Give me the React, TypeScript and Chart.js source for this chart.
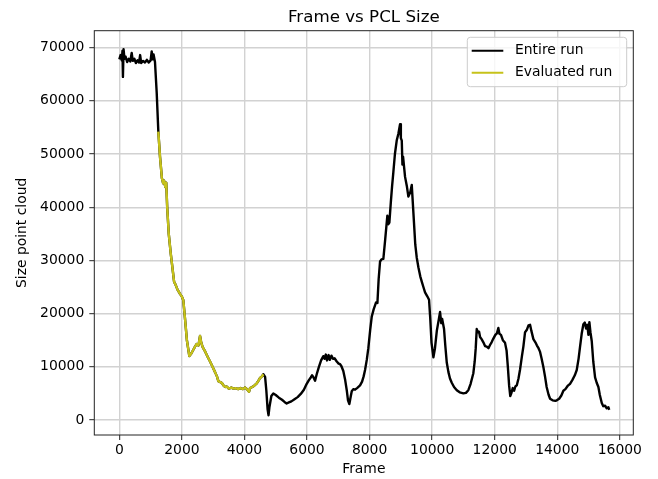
import React, { useEffect, useRef } from "react";
import { Chart, registerables } from "chart.js";

Chart.register(...registerables);

const titleText = "Frame vs PCL Size";
const xAxisLabel = "Frame";
const yAxisLabel = "Size point cloud";
const seriesLabels = ["Entire run", "Evaluated run"];

const frames = [
  0, 40, 80, 100, 115, 135, 165, 200, 250, 300, 350, 395, 430, 480, 530, 580, 630, 665, 700, 760,
  820, 880, 940, 1000, 1035, 1065, 1095, 1140, 1195, 1247,
  1300, 1360, 1400, 1430, 1470, 1500, 1530, 1580, 1643, 1700, 1750, 1800, 1860, 1940, 2000, 2046,
  2100, 2160, 2238, 2300, 2366, 2420, 2474, 2530, 2580, 2620, 2665, 2750, 2830, 2900, 2980, 3060,
  3120, 3166, 3230, 3273, 3340, 3400, 3433, 3500, 3580, 3650, 3720, 3800, 3870, 3950, 4020, 4080,
  4147, 4179, 4250, 4320, 4393, 4450, 4500, 4560, 4604,
  4660, 4700, 4740, 4770, 4800, 4860, 4923, 5000, 5100, 5200, 5280, 5350, 5420, 5500, 5600, 5700,
  5800, 5900, 5990, 6060, 6120, 6160, 6200, 6257, 6310, 6380, 6450, 6522, 6560, 6600, 6640, 6690,
  6730, 6780, 6830, 6880, 6950, 7010, 7056, 7100, 7160, 7220, 7270, 7310, 7353, 7400, 7430, 7480,
  7535, 7600, 7695, 7760, 7810, 7855, 7910, 7960, 8020, 8068, 8130, 8207, 8250, 8290, 8335, 8380,
  8440, 8500, 8568, 8600, 8632, 8680, 8720, 8760, 8810, 8869, 8920, 8974, 9000, 9029, 9050, 9070,
  9134, 9190, 9240, 9300, 9348, 9380, 9420, 9460, 9508, 9560, 9620, 9668, 9720, 9773, 9840, 9901,
  9940, 9980, 10040, 10090, 10150, 10200, 10253, 10290, 10320, 10380, 10420, 10467, 10520, 10570,
  10627, 10700, 10787, 10880, 10998, 11080, 11157, 11230, 11317, 11360, 11393, 11425, 11460, 11500,
  11531, 11580, 11637, 11690, 11744, 11800, 11850, 11900, 11957, 12020, 12070, 12116, 12150, 12200,
  12260, 12330, 12380, 12420, 12460, 12497, 12530, 12576, 12620, 12660, 12704, 12760, 12810, 12870,
  12916, 12970, 13023, 13080, 13130, 13170, 13236, 13300, 13350, 13400, 13450, 13500, 13560, 13610,
  13660, 13720, 13770, 13850, 13940, 13983, 14060, 14130, 14195, 14260, 14330, 14408, 14480, 14560,
  14622, 14680, 14728, 14780, 14834, 14880, 14920, 14960, 14995, 15026, 15060, 15102, 15150, 15208,
  15260, 15314, 15360, 15422, 15470, 15528, 15580, 15633, 15660,
];

const sizes = [
  67800, 68600, 67600, 69400, 64500, 69700, 67900, 68300, 67300, 67900, 67400, 69000, 67500, 67900,
  67100, 67600, 67200, 68600, 67100, 67500, 67200, 67700, 67200, 67600, 69300, 67800, 68700, 67300,
  61500, 54200,
  49500, 45500, 44500, 45000, 43800, 44600, 40000, 35000, 31300, 28500, 26000, 25400, 24500, 23700,
  23200, 22500, 19000, 15000, 12000, 12500, 13200, 13800, 14300, 14000, 15800, 14500, 13700, 12800,
  11800, 11000, 10000, 9000, 8200, 7300, 7100, 7000, 6400, 6200, 6300, 5900, 6100, 5900, 6000, 5800,
  6000, 5800, 6100, 5800, 5300, 6000, 6200, 6500, 6900, 7400, 7900, 8200, 8600,
  8100, 5500, 2000, 900, 2500, 4500, 5000, 4700, 4200, 3800, 3400, 3100, 3300, 3500, 3900, 4300,
  4900, 5700, 6800, 7500, 8000, 8400, 8100, 7400, 8600, 10000, 11200, 12000, 11500, 12300, 11200,
  12200, 11300, 12100, 11500, 11600, 11000, 10600, 10500, 10100, 9200, 7500, 5600, 3700, 3000, 4500,
  5400, 5800, 5700, 6000, 6500, 7200, 8200, 9400, 11300, 13500, 17000, 19400, 20800, 22100, 22000,
  26500, 29800, 30200, 30300, 34000, 38400, 36800, 37100, 41000, 44000, 46600, 50000, 52600, 53800,
  55600, 53000, 52500, 48000, 49500, 45700, 44000, 42000, 42800, 44200, 41000, 37000, 33000, 30500,
  28700, 27000, 26000, 25000, 24000, 23300, 22600, 19000, 14500, 11800, 13500, 16800, 18500, 20300,
  18200, 19000, 17100, 14000, 10800, 9000, 7800, 7000, 6200, 5600, 5200, 5000, 5100, 5600, 6800,
  8800, 11000, 13500, 17100, 16500, 16600, 15600, 15200, 14600, 13900, 13800, 13500, 14100, 14600,
  15300, 16000, 16300, 17300, 16200, 16000, 15000, 14500, 13000, 10000, 6500, 4500, 5000, 6000,
  5500, 6300, 6500, 7800, 9500, 12000, 13800, 16500, 16900, 17800, 17900, 16800, 15200, 14600,
  14000, 13500, 12800, 11500, 9800, 8100, 6200, 4800, 4000, 3700, 3600, 3700, 4000, 4600, 5500,
  5800, 6400, 6800, 7500, 8400, 9400, 11500, 13800, 16200, 18000, 18300, 17200, 17900, 16000, 18400,
  16500, 14800, 11000, 8000, 7000, 6200, 4700, 3200, 2600, 2700, 2200, 2400, 1900,
];

const evalStartFrame = 1247;
const evalEndFrame = 4604;

const xTicks = [0, 2000, 4000, 6000, 8000, 10000, 12000, 14000, 16000];
const yTicks = [0, 10000, 20000, 30000, 40000, 50000, 60000, 70000];
const xRange = [-800, 16430];
const yRange = [-2820, 73180];

const FONT = "'DejaVu Sans', 'Liberation Sans', sans-serif";

const decorPlugin = {
  id: "decor",
  afterDatasetsDraw(chart: any) {
    const { ctx, chartArea: ca } = chart;
    ctx.save();
    ctx.strokeStyle = "#222";
    ctx.lineWidth = 1;
    ctx.strokeRect(ca.left, ca.top, ca.right - ca.left, ca.bottom - ca.top);
    ctx.restore();
  },
  afterDraw(chart: any) {
    const { ctx, chartArea: ca } = chart;
    ctx.save();
    ctx.fillStyle = "#000";
    ctx.font = `16.7px ${FONT}`;
    ctx.textAlign = "center";
    ctx.textBaseline = "alphabetic";
    ctx.fillText(titleText, (ca.left + ca.right) / 2, ca.top - 8.6);

    const w = 159.4;
    const h = 49.4;
    const bx = ca.right - 6.6 - w;
    const by = ca.top + 6.6;
    const r = 3;
    ctx.beginPath();
    ctx.moveTo(bx + r, by);
    ctx.lineTo(bx + w - r, by);
    ctx.quadraticCurveTo(bx + w, by, bx + w, by + r);
    ctx.lineTo(bx + w, by + h - r);
    ctx.quadraticCurveTo(bx + w, by + h, bx + w - r, by + h);
    ctx.lineTo(bx + r, by + h);
    ctx.quadraticCurveTo(bx, by + h, bx, by + h - r);
    ctx.lineTo(bx, by + r);
    ctx.quadraticCurveTo(bx, by, bx + r, by);
    ctx.closePath();
    ctx.fillStyle = "rgba(255,255,255,0.8)";
    ctx.fill();
    ctx.strokeStyle = "#cccccc";
    ctx.lineWidth = 1;
    ctx.stroke();

    chart.data.datasets.forEach((ds: any, i: number) => {
      const y = by + 13.4 + i * 22;
      ctx.beginPath();
      ctx.moveTo(bx + 4.4, y);
      ctx.lineTo(bx + 36, y);
      ctx.strokeStyle = ds.borderColor;
      ctx.lineWidth = 2;
      ctx.stroke();
      ctx.fillStyle = "#000";
      ctx.font = `13.9px ${FONT}`;
      ctx.textAlign = "left";
      ctx.textBaseline = "middle";
      ctx.fillText(ds.label, bx + 47.7, y);
    });
    ctx.restore();
  },
};

export default function App() {
  const canvasRef = useRef<HTMLCanvasElement | null>(null);

  useEffect(() => {
    const canvas = canvasRef.current;
    if (!canvas) return;
    const entire = frames.map((f, i) => ({ x: f, y: sizes[i] }));
    const evaluated = entire.filter((p) => p.x >= evalStartFrame && p.x <= evalEndFrame);

    const chart = new Chart(canvas, {
      type: "line",
      data: {
        datasets: [
          {
            label: seriesLabels[0],
            data: entire,
            borderColor: "#000000",
            borderWidth: 2.4,
            borderJoinStyle: "round",
            pointRadius: 0,
            tension: 0,
            fill: false,
            order: 1,
          },
          {
            label: seriesLabels[1],
            data: evaluated,
            borderColor: "#c6c21a",
            borderWidth: 2.4,
            borderJoinStyle: "round",
            pointRadius: 0,
            tension: 0,
            fill: false,
            order: 0,
          },
        ],
      },
      options: {
        animation: false,
        responsive: false,
        devicePixelRatio: 1,
        layout: { padding: { top: 30.7, right: 24.7, bottom: 0, left: 0 } },
        plugins: {
          legend: { display: false },
          title: { display: false },
          tooltip: { enabled: false },
        },
        scales: {
          x: {
            type: "linear",
            min: xRange[0],
            max: xRange[1],
            afterBuildTicks: (scale: any) => {
              scale.ticks = xTicks.map((v) => ({ value: v }));
            },
            afterFit: (scale: any) => {
              scale.height = 44;
            },
            border: { display: false },
            grid: {
              color: "#d2d2d2",
              lineWidth: 1.4,
              drawTicks: true,
              tickLength: 5,
              tickColor: "#222",
              tickWidth: 1,
            },
            ticks: {
              color: "#000",
              font: { family: FONT, size: 13.9 },
              padding: 1.7,
              maxRotation: 0,
              autoSkip: false,
              callback: (v: any) => String(v),
            },
            title: {
              display: true,
              text: xAxisLabel,
              color: "#000",
              font: { family: FONT, size: 13.9 },
              padding: { top: 0, bottom: 1 },
            },
          },
          y: {
            type: "linear",
            min: yRange[0],
            max: yRange[1],
            afterBuildTicks: (scale: any) => {
              scale.ticks = yTicks.map((v) => ({ value: v }));
            },
            afterFit: (scale: any) => {
              scale.width = 94.3;
            },
            border: { display: false },
            grid: {
              color: "#d2d2d2",
              lineWidth: 1.4,
              drawTicks: true,
              tickLength: 5,
              tickColor: "#222",
              tickWidth: 1,
            },
            ticks: {
              color: "#000",
              font: { family: FONT, size: 13.9 },
              padding: 5,
              autoSkip: false,
              callback: (v: any) => String(v),
            },
            title: {
              display: true,
              text: yAxisLabel,
              color: "#000",
              font: { family: FONT, size: 13.9 },
              padding: { top: 13.7, bottom: 0 },
            },
          },
        },
      },
      plugins: [decorPlugin],
    });
    return () => chart.destroy();
  }, []);

  return (
    <div style={{ position: "absolute", left: 0, top: 0, width: 658, height: 479, background: "#fff" }}>
      <canvas ref={canvasRef} width={658} height={479} style={{ width: 658, height: 479, display: "block" }} />
    </div>
  );
}
